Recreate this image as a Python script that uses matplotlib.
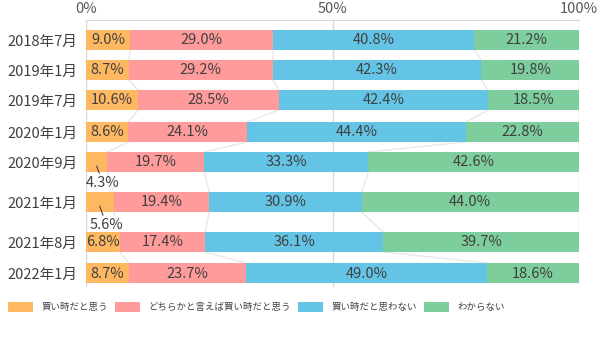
import numpy as np
import matplotlib.pyplot as plt

plt.rcParams['font.family'] = ['Noto Sans CJK JP', 'DejaVu Sans']

# survey periods (top to bottom) and answer shares in %
periods = ['2018年7月', '2019年1月', '2019年7月', '2020年1月',
           '2020年9月', '2021年1月', '2021年8月', '2022年1月']
series = ['買い時だと思う', 'どちらかと言えば買い時だと思う', '買い時だと思わない', 'わからない']
think_yes = [9.0, 8.7, 10.6, 8.6, 4.3, 5.6, 6.8, 8.7]
rather_yes = [29.0, 29.2, 28.5, 24.1, 19.7, 19.4, 17.4, 23.7]
think_no = [40.8, 42.3, 42.4, 44.4, 33.3, 30.9, 36.1, 49.0]
unknown = [21.2, 19.8, 18.5, 22.8, 42.6, 44.0, 39.7, 18.6]
colors = ['#FFB862', '#FF9B9B', '#63C4E6', '#7DCE9C']

# layout (pixel rows of the bars, as in the original)
ypos = np.array([40, 70, 100, 132, 162, 202, 242, 273])
bar_h = 20
txt = '#404040'

fig = plt.figure(figsize=(6.02, 3.48), dpi=100)
ax = fig.add_axes([86 / 602, 1 - 287 / 348, 493 / 602, 267 / 348])

data = np.array([think_yes, rather_yes, think_no, unknown])
left = np.zeros(len(periods))
for vals, col, name in zip(data, colors, series):
    ax.barh(ypos, vals, left=left, height=bar_h, color=col, label=name, zorder=3)
    for i, v in enumerate(vals):
        if v < 6:
            continue
        ax.text(left[i] + v / 2, ypos[i] + 0.5, f'{v:.1f}%', ha='center', va='center',
                fontsize=10.5, color=txt, zorder=4)
    left = left + vals

# small shares labelled below their bar with a leader line
for i, dy in [(4, 21), (5, 23)]:
    v = think_yes[i]
    ax.annotate(f'{v:.1f}%', xy=(v / 2, ypos[i] + 4), xytext=(v / 2 + 1.3, ypos[i] + dy),
                ha='center', va='center', fontsize=10.5, color=txt,
                arrowprops=dict(arrowstyle='-', color='#404040', lw=0.8,
                                shrinkA=0, shrinkB=0), zorder=4)

# series lines joining segment boundaries between bars
cum = np.cumsum(data, axis=0)
for k in range(3):
    for i in range(len(periods) - 1):
        ax.plot([cum[k, i], cum[k, i + 1]],
                [ypos[i] + bar_h / 2, ypos[i + 1] - bar_h / 2],
                color='#e8e8e8', lw=1, zorder=2)

ax.set_xlim(0, 100)
ax.set_ylim(287, 20)
ax.set_yticks(ypos)
ax.set_yticklabels(periods, fontsize=10.5, color=txt)
ax.xaxis.tick_top()
ax.set_xticks([0, 50, 100])
ax.set_xticklabels(['0%', '50%', '100%'], fontsize=10.5, color='#595959')
ax.tick_params(axis='x', length=0, pad=3)
ax.tick_params(axis='y', length=0, pad=6)
ax.grid(axis='x', color='#d9d9d9', lw=1, zorder=0)
for s in ['left', 'right', 'bottom']:
    ax.spines[s].set_visible(False)
ax.spines['top'].set_color('#d9d9d9')

fig.legend(loc='upper left', bbox_to_anchor=(8 / 602, 1 - 302 / 348), ncol=4,
           frameon=False, fontsize=6.8, handlelength=2.6, handleheight=1.3,
           handletextpad=0.9, columnspacing=0.8, borderpad=0, borderaxespad=0,
           labelcolor=txt)

fig.savefig('out.png', dpi=100)
